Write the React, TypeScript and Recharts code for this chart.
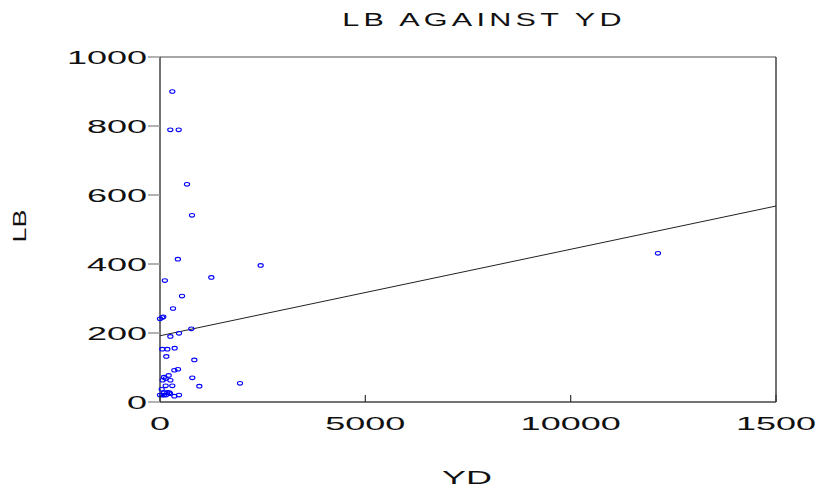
import React from "react";
import { ScatterChart, Scatter, XAxis, YAxis, ReferenceLine } from "recharts";

const ydValues = [300, 251, 455, 657, 779, 435, 2451, 1250, 118, 536, 317, 0, 56, 80, 763, 463, 252, 56, 178, 357, 154, 836, 349, 438, 211, 97, 138, 65, 252, 787, 1948, 138, 300, 958, 41, 97, 178, 227, 243, 0, 56, 97, 146, 463, 349, 12125];
const lbValues = [900, 789, 789, 631, 541, 414, 396, 361, 352, 307, 271, 241, 245, 247, 212, 199, 190, 153, 153, 156, 132, 122, 92, 95, 77, 72, 68, 63, 63, 70, 54, 47, 47, 46, 37, 27, 28, 27, 24, 20, 20, 20, 20, 20, 17, 431];
const fitLine = [{ x: 0, y: 192 }, { x: 15000, y: 568 }];
const xTickValues = [0, 5000, 10000, 15000];
const xTickLabels = ["0", "5000", "10000", "1500"];
const yTickValues = [0, 200, 400, 600, 800, 1000];
const yTickLabels = ["0", "200", "400", "600", "800", "1000"];
const titleText = "LB AGAINST YD";
const xLabelText = "YD";
const yLabelText = "LB";

const points = ydValues.map((x, i) => ({ x, y: lbValues[i] }));
const FONT = "'Liberation Sans', Arial, sans-serif";

const XTick = (props: any) => {
  const { x, y, payload } = props;
  const idx = xTickValues.indexOf(payload.value);
  return (
    <g>
      <line x1={x} y1={y} x2={x} y2={y - 7} stroke="#333" strokeWidth={1.2} />
      <text transform={`translate(${x},${y + 28}) scale(2,1)`} textAnchor="middle" fontSize={18} fontFamily={FONT} fill="#111">
        {xTickLabels[idx]}
      </text>
    </g>
  );
};

const YTick = (props: any) => {
  const { x, y, payload } = props;
  const idx = yTickValues.indexOf(payload.value);
  return (
    <g>
      <line x1={x - 12} y1={y} x2={x} y2={y} stroke="#999" strokeWidth={1.5} />
      <text transform={`translate(${x - 13},${y + 6.5}) scale(2,1)`} textAnchor="end" fontSize={18} fontFamily={FONT} fill="#111">
        {yTickLabels[idx]}
      </text>
    </g>
  );
};

const Dot = (props: any) => {
  const { cx, cy } = props;
  return <ellipse cx={cx} cy={cy} rx={2.6} ry={1.8} fill="none" stroke="#0000ff" strokeWidth={1.1} />;
};

export default function App() {
  return (
    <div style={{ position: "absolute", left: 0, top: 0, width: 816, height: 489, background: "#fff" }}>
      <ScatterChart width={816} height={489} margin={{ top: 57, right: 40, bottom: 57, left: 100 }}>
        <XAxis
          type="number"
          dataKey="x"
          domain={[0, 15000]}
          ticks={xTickValues}
          height={30}
          tickSize={0}
          tickMargin={0}
          tickLine={false}
          axisLine={{ stroke: "#444", strokeWidth: 1.5 }}
          tick={<XTick />}
          interval={0}
        />
        <YAxis
          type="number"
          dataKey="y"
          domain={[0, 1000]}
          ticks={yTickValues}
          width={60}
          tickSize={0}
          tickMargin={0}
          tickLine={false}
          axisLine={{ stroke: "#444", strokeWidth: 1.5 }}
          tick={<YTick />}
          interval={0}
        />
        <ReferenceLine y={1000} stroke="#888" strokeWidth={1.5} ifOverflow="visible" />
        <ReferenceLine x={15000} stroke="#444" strokeWidth={1.5} ifOverflow="visible" />
        <ReferenceLine segment={fitLine} stroke="#222" strokeWidth={1} ifOverflow="visible" />
        <Scatter data={points} shape={<Dot />} isAnimationActive={false} />
      </ScatterChart>
      <svg width={816} height={489} style={{ position: "absolute", left: 0, top: 0, pointerEvents: "none" }}>
        <text transform="translate(484,26) scale(1.7,1)" textAnchor="middle" fontSize={18} letterSpacing={2.5} fontFamily={FONT} fill="#111">
          {titleText}
        </text>
        <text transform="translate(467,484) scale(2,1)" textAnchor="middle" fontSize={18} fontFamily={FONT} fill="#111">
          {xLabelText}
        </text>
        <text transform="translate(26,226) rotate(-90) scale(1.5,1)" textAnchor="middle" fontSize={18} fontFamily={FONT} fill="#111">
          {yLabelText}
        </text>
      </svg>
    </div>
  );
}
